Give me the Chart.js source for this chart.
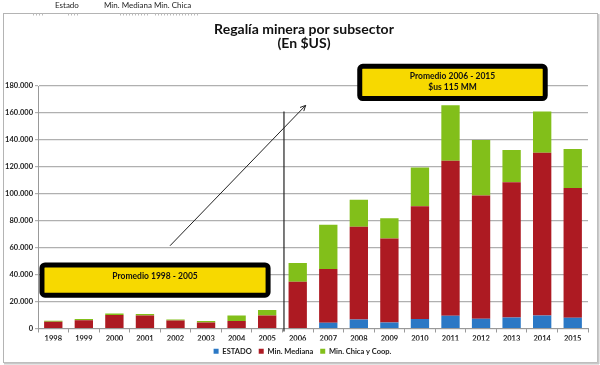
<!DOCTYPE html>
<html><head><meta charset="utf-8">
<script src="https://cdn.jsdelivr.net/npm/chart.js@4/dist/chart.umd.min.js"></script>
<style>html,body{margin:0;padding:0;background:#fff;overflow:hidden}canvas{display:block}</style>
</head><body>
<canvas id="c" width="600" height="365"></canvas>
<script>
const years = ['1998','1999','2000','2001','2002','2003','2004','2005','2006','2007','2008','2009','2010','2011','2012','2013','2014','2015'];
const estado  = [0,0,0,0,0,0,0,0,0,4300,6700,4500,7000,9500,7300,8200,9700,8000];
const mediana = [5000,6200,10000,9700,6000,4500,5500,9700,34700,39900,68900,62300,83800,115000,91500,100300,120800,96300];
const chica   = [700,800,1200,1000,700,1000,4200,4000,13900,32900,20000,15000,28700,41200,41200,24000,30500,28900];
const yTicks = [0,20000,40000,60000,80000,100000,120000,140000,160000,180000];
const seriesNames = ['ESTADO','Min. Mediana','Min. Chica y Coop.'];
const seriesColors = ['#2B78C5','#AD1A22','#82BF1A'];
const titleLines = ['Regalía minera por subsector','(En $US)'];
const note1 = ['Promedio 1998 - 2005'];
const note2 = ['Promedio 2006 - 2015','$us 115 MM'];
const headerLabels = ['Estado','Min. Mediana','Min. Chica'];

const FONT = 'Lato';
function fmt(v){ return String(v).replace(/\B(?=(\d{3})+(?!\d))/g,'.'); }

function noteBox(ctx, x1, y1, x2, y2, lines, lineY){
  ctx.save();
  ctx.beginPath();
  ctx.roundRect(x1, y1, x2-x1, y2-y1, 3);
  ctx.fillStyle = '#F7D900';
  ctx.fill();
  ctx.lineWidth = 5;
  ctx.strokeStyle = '#000';
  ctx.stroke();
  ctx.fillStyle = '#111';
  ctx.font = 'bold 8.5px ' + FONT;
  ctx.textAlign = 'center';
  ctx.textBaseline = 'middle';
  lines.forEach((t,i)=>ctx.fillText(t, (x1+x2)/2, lineY[i]));
  ctx.restore();
}

const decor = {
  id: 'decor',
  afterLayout(chart){
    if (chart.legend) { chart.legend.left += 7; chart.legend.right += 7; }
  },
  beforeDraw(chart){
    const ctx = chart.ctx;
    ctx.save();
    ctx.fillStyle = '#fff';
    ctx.fillRect(0,0,chart.width,chart.height);
    ctx.strokeStyle = '#b4b4b4';
    ctx.lineWidth = 1;
    ctx.strokeRect(3.5, 13.5, 594, 349);
    ctx.strokeStyle = '#c8c8c8';
    ctx.lineWidth = 2;
    ctx.beginPath();
    ctx.moveTo(598.5, 14); ctx.lineTo(598.5, 364);
    ctx.moveTo(4, 363.5); ctx.lineTo(599, 363.5);
    ctx.stroke();
    ctx.fillStyle = '#222';
    ctx.font = '8px ' + FONT;
    ctx.textBaseline = 'middle';
    ctx.textAlign = 'left';
    const hx = [55, 104, 154];
    headerLabels.forEach((t,i)=>ctx.fillText(t, hx[i], 5));
    ctx.strokeStyle = '#bbb';
    ctx.setLineDash([1,2]);
    ctx.beginPath();
    [[33,44],[68,79],[120,148],[155,200]].forEach(s=>{ctx.moveTo(s[0],14.5);ctx.lineTo(s[1],14.5);});
    ctx.stroke();
    ctx.setLineDash([]);
    ctx.fillStyle = '#111';
    ctx.font = 'bold 14px ' + FONT;
    ctx.textAlign = 'center';
    ctx.fillText(titleLines[0], 304, 29);
    ctx.fillText(titleLines[1], 304, 43);
    ctx.restore();
  },
  afterDraw(chart){
    const ctx = chart.ctx;
    const xs = chart.scales.x, ys = chart.scales.y;
    const px = i => xs.getPixelForValue(0) + i * (xs.getPixelForValue(1) - xs.getPixelForValue(0));
    ctx.save();
    ctx.strokeStyle = '#222';
    ctx.lineWidth = 1.2;
    ctx.beginPath();
    ctx.moveTo(px(7.55), ys.getPixelForValue(161000));
    ctx.lineTo(px(7.55), ys.getPixelForValue(-2300));
    ctx.stroke();
    const ax1 = px(3.82), ay1 = ys.getPixelForValue(61400);
    const ax2 = px(8.26), ay2 = ys.getPixelForValue(165600);
    ctx.lineWidth = 1;
    ctx.beginPath(); ctx.moveTo(ax1, ay1); ctx.lineTo(ax2, ay2); ctx.stroke();
    const ang = Math.atan2(ay2-ay1, ax2-ax1), L = 6;
    ctx.beginPath();
    ctx.moveTo(ax2 - L*Math.cos(ang-0.45), ay2 - L*Math.sin(ang-0.45));
    ctx.lineTo(ax2, ay2);
    ctx.lineTo(ax2 - L*Math.cos(ang+0.45), ay2 - L*Math.sin(ang+0.45));
    ctx.stroke();
    ctx.restore();
    const b1y1 = ys.getPixelForValue(47200), b1y2 = ys.getPixelForValue(24700);
    noteBox(ctx, px(-0.37), b1y1, px(7.03), b1y2, note1, [b1y1 + 11]);
    const b2y1 = ys.getPixelForValue(194600), b2y2 = ys.getPixelForValue(170700);
    noteBox(ctx, px(10.03), b2y1, px(16.1), b2y2, note2, [b2y1 + 10, b2y1 + 21]);
  }
};

const data = {
  labels: years,
  datasets: [
    {label: seriesNames[0], data: estado, backgroundColor: seriesColors[0]},
    {label: seriesNames[1], data: mediana, backgroundColor: seriesColors[1]},
    {label: seriesNames[2], data: chica, backgroundColor: seriesColors[2]}
  ]
};

new Chart(document.getElementById('c'), {
  type: 'bar',
  data,
  plugins: [decor],
  options: {
    responsive: false,
    animation: false,
    devicePixelRatio: 1,
    layout: {padding: {top: 86, left: 3, right: 12, bottom: 0}},
    datasets: {bar: {categoryPercentage: 1, barPercentage: 0.6, borderWidth: 0}},
    plugins: {
      title: {display: false},
      tooltip: {enabled: false},
      legend: {
        display: true, position: 'bottom',
        labels: {boxWidth: 5, boxHeight: 5, padding: 7, color: '#222',
                 font: {family: FONT, size: 7.5, weight: 'bold'}}
      }
    },
    scales: {
      x: {
        stacked: true,
        afterFit: s => { s.height = 12; },
        grid: {display: true, drawOnChartArea: false, offset: true, tickLength: 4, color: '#999'},
        border: {color: '#999'},
        ticks: {color: '#222', padding: 2, font: {family: FONT, size: 7.5, weight: 'bold'}, maxRotation: 0, autoSkip: false}
      },
      y: {
        stacked: true, min: 0, max: 180000,
        afterBuildTicks: s => { s.ticks = yTicks.map(v => ({value: v})); },
        afterFit: s => { s.width = 35; },
        grid: {color: '#b0b0b0', lineWidth: 1.2, tickLength: 3},
        border: {color: '#999'},
        ticks: {color: '#222', padding: 2, autoSkip: false, font: {family: FONT, size: 7.5, weight: 'bold'}, callback: v => fmt(v)}
      }
    }
  }
});
</script>
</body></html>
